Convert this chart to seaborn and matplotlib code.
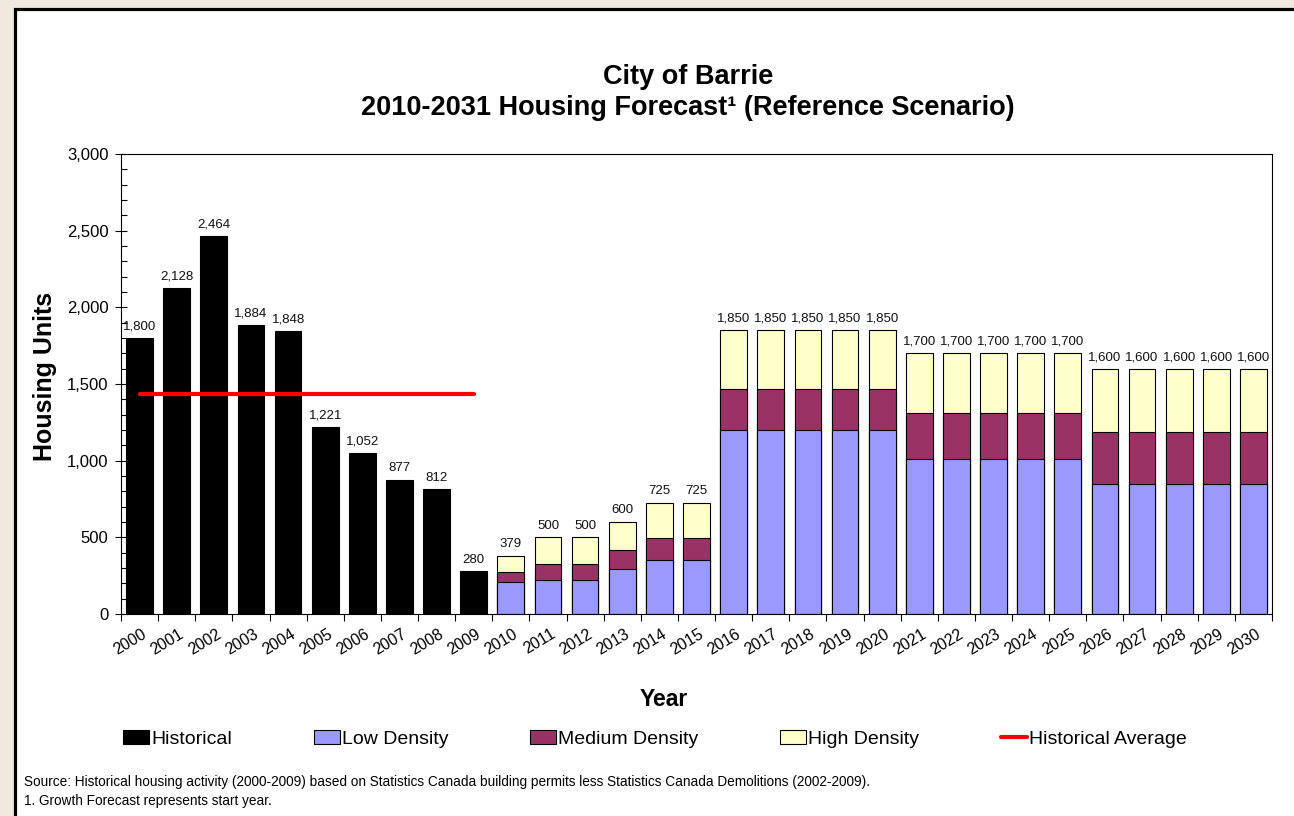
import numpy as np
import pandas as pd
import seaborn as sns
import matplotlib.pyplot as plt
from matplotlib.patches import Rectangle, Patch
from matplotlib.lines import Line2D
import matplotlib.transforms as mtransforms

years = [str(y) for y in range(2000, 2031)]
hist_years = years[:10]
fcst_years = years[10:]

historical = [1800, 2128, 2464, 1884, 1848, 1221, 1052, 877, 812, 280]
low_density = [210, 225, 225, 295, 350, 350,
               1200, 1200, 1200, 1200, 1200,
               1010, 1010, 1010, 1010, 1010,
               850, 850, 850, 850, 850]
medium_density = [65, 100, 100, 120, 145, 145,
                  265, 265, 265, 265, 265,
                  300, 300, 300, 300, 300,
                  335, 335, 335, 335, 335]
high_density = [104, 175, 175, 185, 230, 230,
                385, 385, 385, 385, 385,
                390, 390, 390, 390, 390,
                415, 415, 415, 415, 415]

col_low = "#9999FF"
col_med = "#993366"
col_high = "#FFFFCC"

sns.set_theme(style="white")
plt.rcParams['font.family'] = ['Liberation Sans', 'DejaVu Sans']
plt.rcParams['text.color'] = 'black'
plt.rcParams['axes.labelcolor'] = 'black'
plt.rcParams['xtick.color'] = 'black'
plt.rcParams['ytick.color'] = 'black'

hist_df = pd.DataFrame({"year": hist_years, "units": historical})
fc = pd.DataFrame({"year": fcst_years, "low": low_density,
                   "med": medium_density, "high": high_density})
fc["low_med"] = fc["low"] + fc["med"]
fc["total"] = fc["low_med"] + fc["high"]

fig = plt.figure(figsize=(12.94, 8.16), dpi=100)
fig.patch.set_facecolor("#F1E9DF")
fig.patches.append(Rectangle((14.5 / 1294, -0.1), 1.2, 1.1 - 8.5 / 816,
                             transform=fig.transFigure, facecolor="white",
                             edgecolor="black", linewidth=2.3, zorder=-10))

ax = fig.add_axes([121 / 1294, 202 / 816, 1151 / 1294, 460 / 816])
bw = 0.72
edge = dict(edgecolor="black", linewidth=0.8)

sns.barplot(data=hist_df, x="year", y="units", order=years, color="black",
            saturation=1, width=bw, ax=ax, **edge)
sns.barplot(data=fc, x="year", y="total", order=years, color=col_high,
            saturation=1, width=bw, ax=ax, **edge)
sns.barplot(data=fc, x="year", y="low_med", order=years, color=col_med,
            saturation=1, width=bw, ax=ax, **edge)
sns.barplot(data=fc, x="year", y="low", order=years, color=col_low,
            saturation=1, width=bw, ax=ax, **edge)

ax.bar_label(ax.containers[0], fmt="{:,.0f}", padding=4, fontsize=9.5, color="#111111")
ax.bar_label(ax.containers[1], fmt="{:,.0f}", padding=4, fontsize=9.5, color="#111111")

avg = np.mean(historical)
ax.plot([0, len(historical) - 1], [avg, avg], color="#FF0000", linewidth=3,
        solid_capstyle="round", zorder=5)

ax.set_xlim(-0.5, len(years) - 0.5)
ax.set_ylim(0, 3000)
ax.set_yticks(np.arange(0, 3001, 500))
ax.set_yticks(np.arange(0, 3001, 100), minor=True)
ax.yaxis.set_major_formatter(plt.FuncFormatter(lambda v, p: f"{v:,.0f}"))
ax.tick_params(axis="y", which="major", direction="inout", length=8, width=0.8,
               labelsize=12, pad=5, left=True)
ax.tick_params(axis="y", which="minor", direction="in", length=4, width=0.8, left=True)

ax.set_xticks(np.arange(-0.5, len(years), 1), minor=True)
ax.set_xticks(np.arange(len(years)))
ax.set_xticklabels(years)
ax.tick_params(axis="x", which="major", length=0, labelsize=11.5, pad=9)
ax.tick_params(axis="x", which="minor", direction="out", length=5, width=0.8, bottom=True)
offset = mtransforms.ScaledTranslation(2 / 100, 0, fig.dpi_scale_trans)
for lab in ax.get_xticklabels():
    lab.set_rotation(31)
    lab.set_ha("right")
    lab.set_rotation_mode("anchor")
    lab.set_transform(lab.get_transform() + offset)

for s in ax.spines.values():
    s.set_visible(True)
    s.set_color("black")
    s.set_linewidth(0.8)
ax.set_xlabel("")
ax.set_ylabel("")

fig.text(688 / 1294, 1 - 77 / 816, "City of Barrie", ha="center", va="center",
         fontsize=19.5, fontweight="bold")
fig.text(688 / 1294, 1 - 108 / 816, "2010-2031 Housing Forecast\u00b9 (Reference Scenario)",
         ha="center", va="center", fontsize=19.5, fontweight="bold")
fig.text(45 / 1294, 1 - 376 / 816, "Housing Units", rotation=90, ha="center",
         va="center", fontsize=18, fontweight="bold")
fig.text(664 / 1294, 1 - 700 / 816, "Year", ha="center", va="center",
         fontsize=16.5, fontweight="bold")

handles = [Patch(facecolor="black", edgecolor="black", linewidth=0.8),
           Patch(facecolor=col_low, edgecolor="black", linewidth=0.8),
           Patch(facecolor=col_med, edgecolor="black", linewidth=0.8),
           Patch(facecolor=col_high, edgecolor="black", linewidth=0.8),
           Line2D([0], [0], color="#FF0000", linewidth=3)]
labels = ["Historical", "Low Density", "Medium Density", "High Density",
          "Historical Average"]
fig.legend(handles, labels, loc="center", bbox_to_anchor=(655 / 1294, 1 - 739 / 816),
           ncol=5, frameon=False, fontsize=14, handlelength=1.35, handleheight=0.7,
           handletextpad=0.1, columnspacing=4.2)

fig.text(24 / 1294, 1 - 782 / 816,
         "Source: Historical housing activity (2000-2009) based on Statistics Canada building "
         "permits less Statistics Canada Demolitions (2002-2009).",
         ha="left", va="center", fontsize=9.8)
fig.text(24 / 1294, 1 - 801 / 816, "1. Growth Forecast represents start year.",
         ha="left", va="center", fontsize=9.8)

fig.savefig("out.png", dpi=100, facecolor=fig.get_facecolor())
